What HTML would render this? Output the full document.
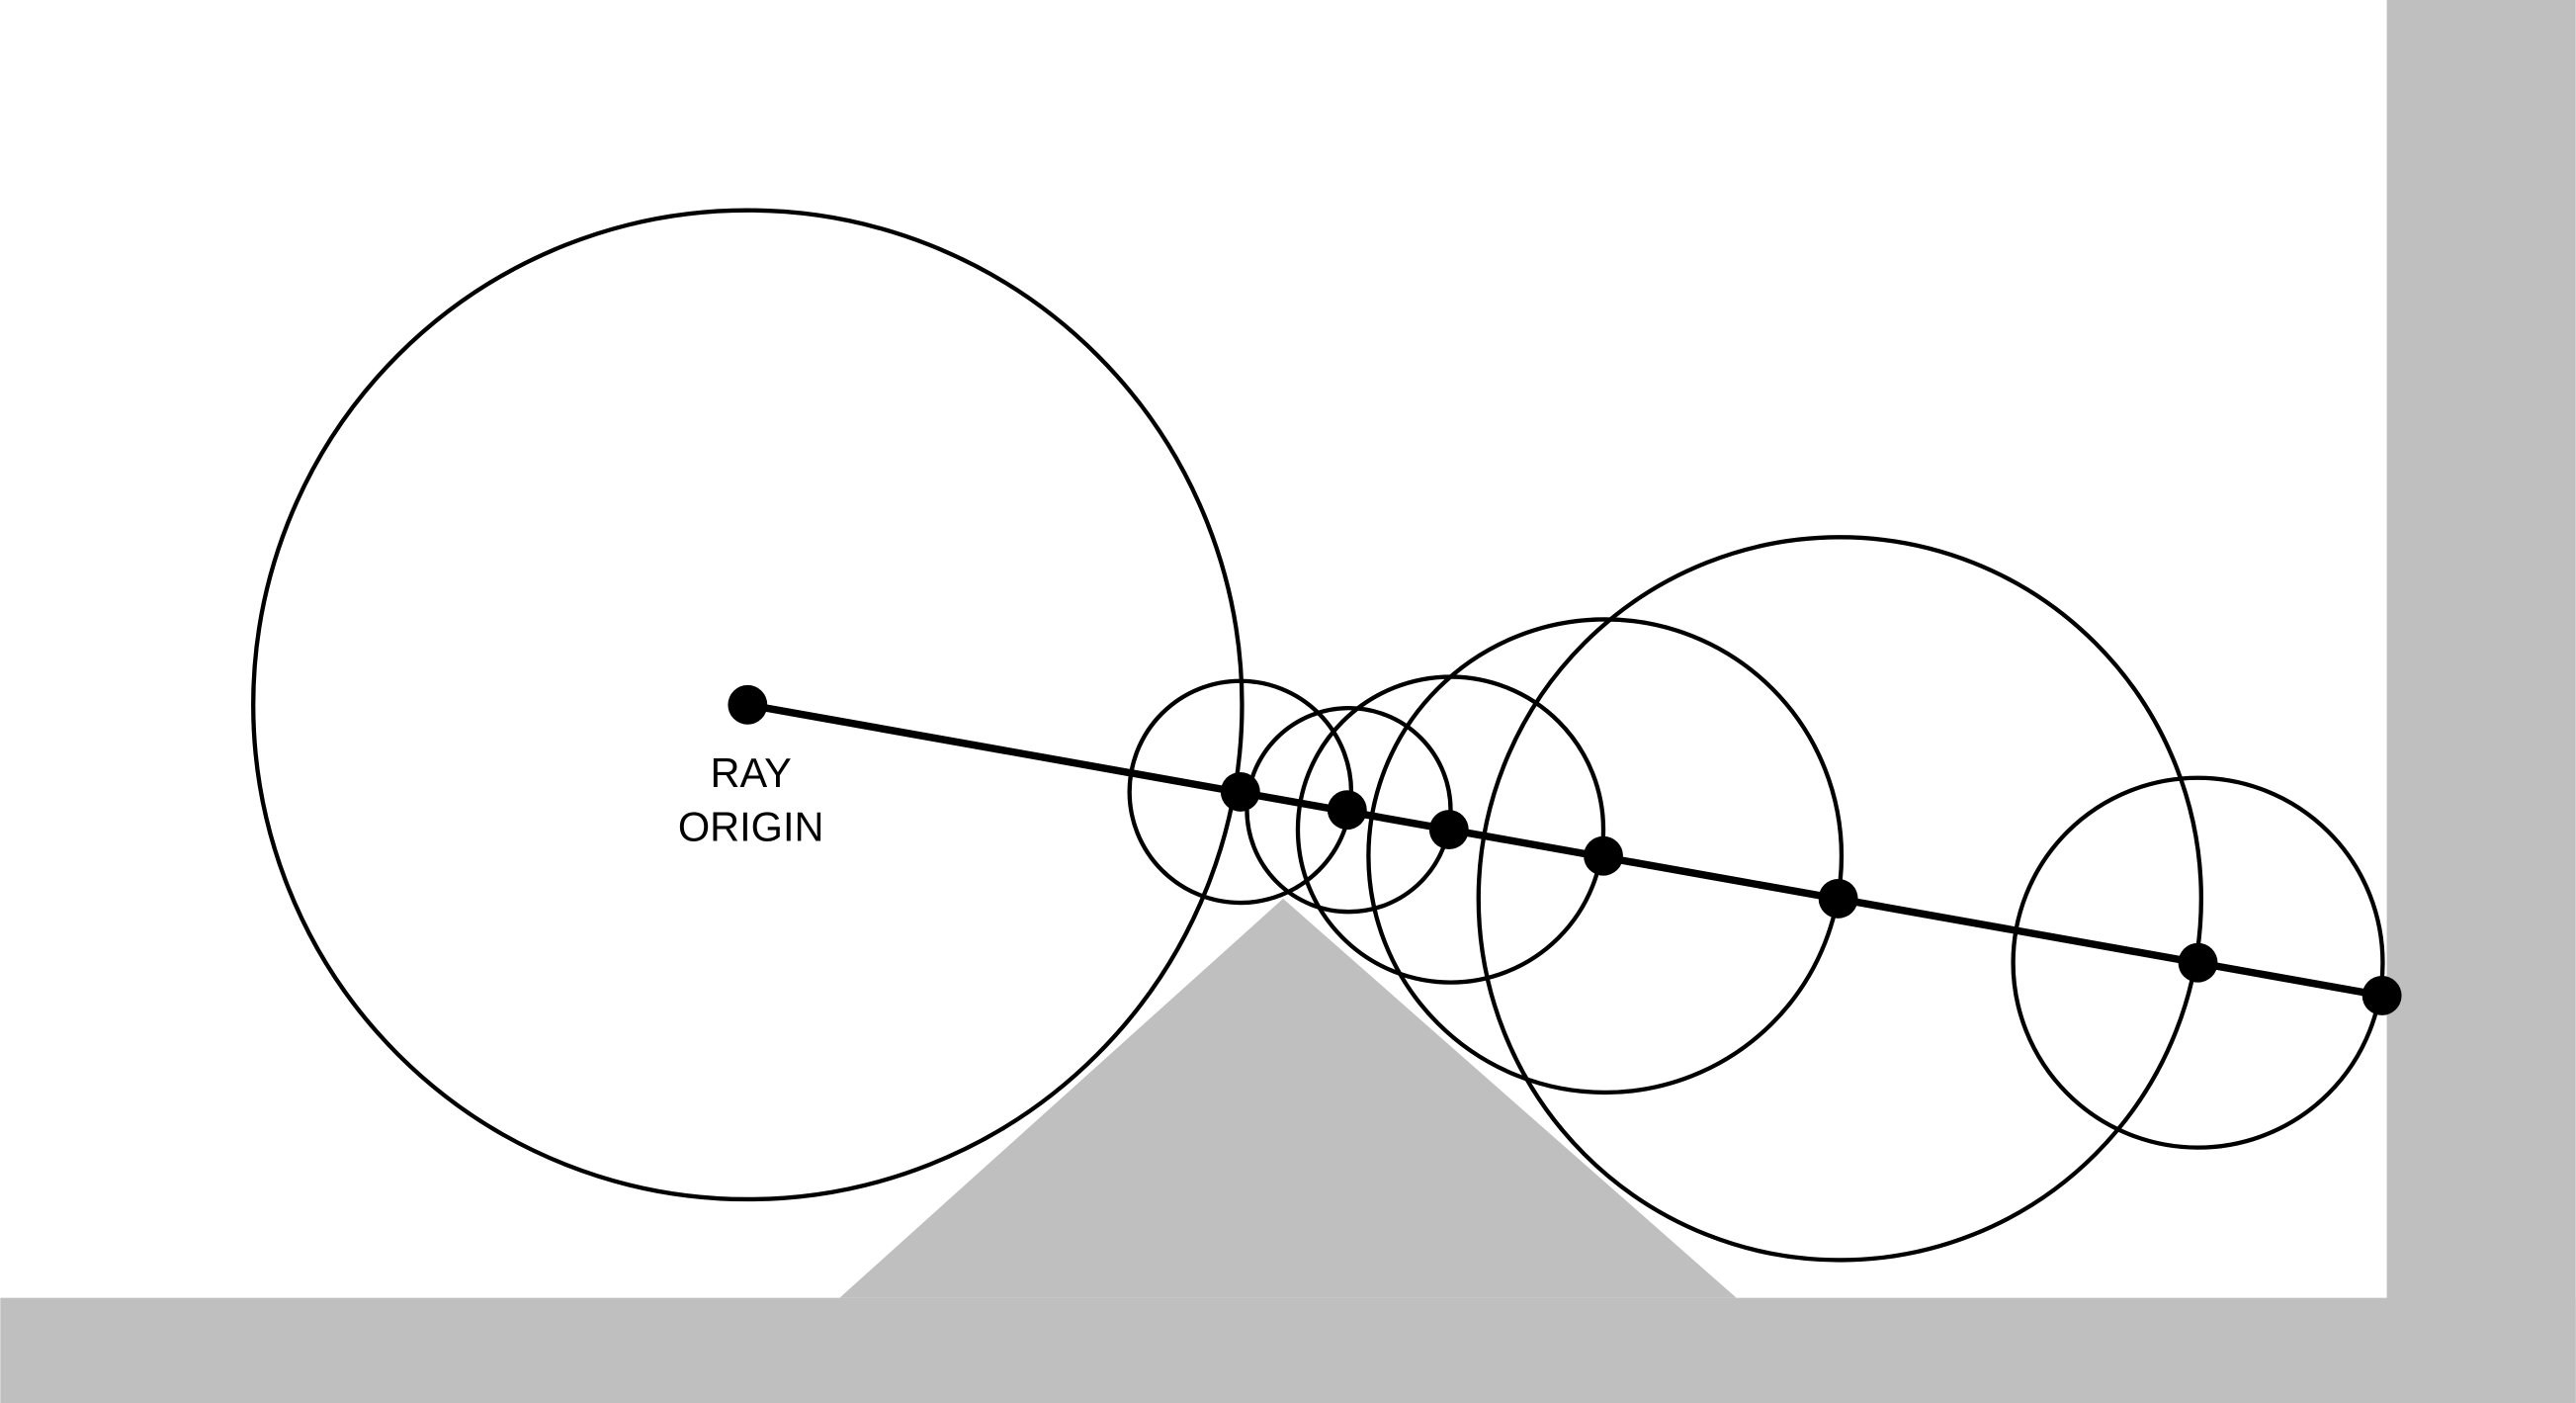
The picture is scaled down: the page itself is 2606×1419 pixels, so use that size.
<!DOCTYPE html>
<html><head><meta charset="utf-8"><style>
html,body{margin:0;padding:0;background:#fff;}
svg{display:block;}
</style></head><body>
<svg width="2606" height="1419" viewBox="0 0 1568 854" xmlns="http://www.w3.org/2000/svg">
<rect x="0" y="0" width="1568" height="854" fill="#fff"/>
<rect x="1453" y="0" width="115" height="854" fill="#bfbfbf"/>
<rect x="0" y="790" width="1568" height="64" fill="#bfbfbf"/>
<polygon points="511,790 781,547 1057,790" fill="#bfbfbf"/>
<g fill="none" stroke="#000" stroke-width="2.6">
<circle cx="455" cy="429" r="301"/>
<circle cx="755" cy="482" r="67.5"/>
<circle cx="821" cy="493" r="62"/>
<circle cx="883" cy="505" r="93"/>
<circle cx="977" cy="521" r="144"/>
<circle cx="1120" cy="547" r="220"/>
<circle cx="1338" cy="586" r="112.5"/>
</g>
<line x1="455" y1="429" x2="1450" y2="606" stroke="#000" stroke-width="4.5"/>
<g fill="#000">
<circle cx="455" cy="429" r="12"/>
<circle cx="755" cy="482" r="12"/>
<circle cx="820" cy="493" r="12"/>
<circle cx="882" cy="505" r="12"/>
<circle cx="976" cy="521" r="12"/>
<circle cx="1119" cy="547" r="12"/>
<circle cx="1338" cy="586" r="12"/>
<circle cx="1450" cy="606" r="12"/>
</g>
<g font-family="Liberation Sans, sans-serif" font-size="25" text-anchor="middle" fill="#000">
<text x="457" y="479">RAY</text>
<text x="457" y="512">ORIGIN</text>
</g>
</svg>
</body></html>
